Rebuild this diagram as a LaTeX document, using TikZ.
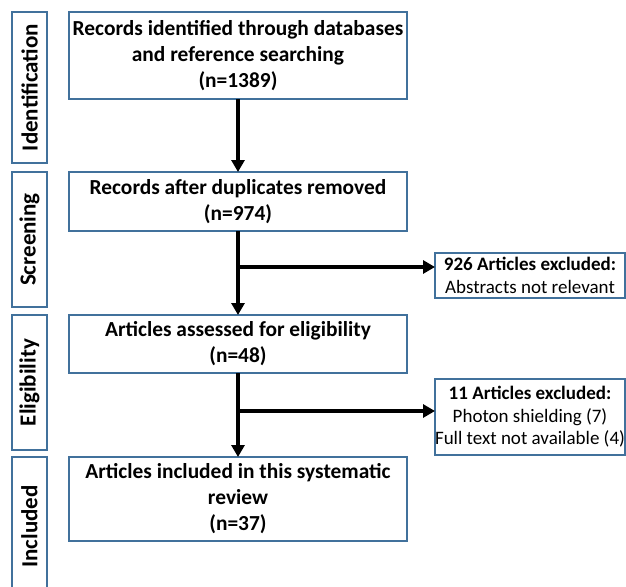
\documentclass[tikz,border=0pt]{standalone}
\usepackage{fontspec}
\setmainfont{Carlito}
\usetikzlibrary{arrows.meta}
\definecolor{boxblue}{HTML}{41719C}
\begin{document}
\begin{tikzpicture}[x=1pt,y=-1pt,
  box/.style={draw=boxblue,line width=1.3pt,inner sep=0pt,outer sep=0pt,align=center},
  mainbox/.style={box,minimum width=338pt,font=\bfseries\fontsize{21.4}{26}\selectfont},
  sidebox/.style={box,rotate=90,minimum height=35pt,font=\bfseries\fontsize{23}{26}\selectfont},
  exclbox/.style={box,minimum width=190pt,font=\fontsize{19}{22.5}\selectfont},
  arr/.style={line width=3.5pt,-{Triangle[length=12pt,width=13pt]}},
  ]
\useasboundingbox (0,0) rectangle (626,586);
% side labels
\node[sidebox,minimum width=151pt] (sid) at (29.5,87.5) {Identification};
\node[sidebox,minimum width=135pt] (ssc) at (29.5,239.5) {Screening};
\node[sidebox,minimum width=135pt] (sel) at (29.5,382.5) {Eligibility};
\node[sidebox,minimum width=139pt] (sin) at (29.5,526.5) {Included};
% main boxes
\node[mainbox,minimum height=87pt] (b1) at (238,55.5) {Records identified through databases\\and reference searching\\(n=1389)};
\node[mainbox,minimum height=59pt] (b2) at (238,201.5) {Records after duplicates removed\\(n=974)};
\node[mainbox,minimum height=58pt] (b3) at (238,344) {Articles assessed for eligibility\\(n=48)};
\node[mainbox,minimum height=84pt] (b4) at (238,499) {Articles included in this systematic\\review\\(n=37)};
% exclusion boxes
\node[exclbox,minimum height=45pt] (e1) at (530,275.5) {\textbf{926 Articles excluded:}\\Abstracts not relevant};
\node[exclbox,minimum height=76pt] (e2) at (530,417) {\textbf{11 Articles excluded:}\\Photon shielding (7)\\Full text not available (4)};
% connectors
\draw[arr] (b1.south) -- (b2.north);
\draw[arr] (b2.south) -- (b3.north);
\draw[arr] (b3.south) -- (b4.north);
\coordinate (j1) at (238,267);
\coordinate (j2) at (238,411);
\draw[arr] (j1) -- (j1 -| e1.west);
\draw[arr] (j2) -- (j2 -| e2.west);
\end{tikzpicture}
\end{document}
